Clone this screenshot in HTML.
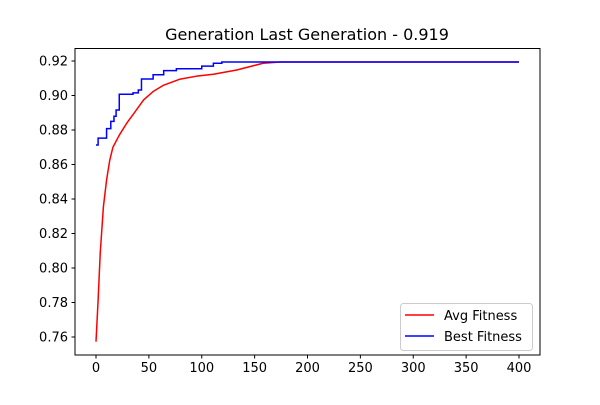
<!DOCTYPE html>
<html><head><meta charset="utf-8"><style>
body{margin:0;background:#fff;width:600px;height:400px;overflow:hidden}
text{font-family:"DejaVu Sans","Liberation Sans",sans-serif}
</style></head><body>
<svg id="chart" width="600" height="400" xmlns="http://www.w3.org/2000/svg">
<rect width="600" height="400" fill="#fff"/>
<text x="307" y="40" font-size="16" text-anchor="middle">Generation Last Generation - 0.919</text>
<g id="plot"></g>
<rect x="75" y="48.5" width="465" height="306.5" fill="none" stroke="#000" stroke-width="1"/>
<g>
<rect x="400.5" y="303.5" width="132" height="47" rx="3" fill="#fff" stroke="#ccc"/>
<line x1="405" y1="315" x2="434" y2="315" stroke="#f00" stroke-width="1.5"/>
<text x="444" y="320" font-size="13">Avg Fitness</text>
<line x1="405" y1="336" x2="434" y2="336" stroke="#00f" stroke-width="1.5"/>
<text x="444" y="341" font-size="13">Best Fitness</text>
</g>
</svg>
<script>
const xTicks=[0,50,100,150,200,250,300,350,400];
const yTicks=[0.76,0.78,0.80,0.82,0.84,0.86,0.88,0.90,0.92];
const avgGens=[0,2,4,7,10,13,16,22,29,37,45,54,64,79,95,111,133,158,174,400];
const avgVals=[0.7573,0.7814,0.8087,0.8355,0.851,0.8625,0.870,0.877,0.8839,0.8906,0.8974,0.9023,0.906,0.9094,0.9112,0.9123,0.9148,0.9187,0.9194,0.9194];
const bestGens=[0,2,10,14,17,19,22,35,40,43,54,64,76,100,111,119,400];
const bestVals=[0.8713,0.8753,0.8808,0.8850,0.8880,0.8916,0.9007,0.9015,0.9032,0.9096,0.912,0.9144,0.9155,0.917,0.9187,0.9194,0.9194];
const X=g=>96+g*1.0575, Y=v=>61+(0.92-v)*1725;
const ns="http://www.w3.org/2000/svg", p=document.getElementById('plot');
function mk(t,a){const e=document.createElementNS(ns,t);for(const k in a)e.setAttribute(k,a[k]);p.appendChild(e);return e;}
xTicks.forEach(t=>{mk('line',{x1:X(t),x2:X(t),y1:355,y2:358.5,stroke:'#000'});
const tx=mk('text',{x:X(t),y:372,'font-size':13,'text-anchor':'middle'});tx.textContent=t;

});
yTicks.forEach(t=>{mk('line',{x1:71.5,x2:75,y1:Y(t),y2:Y(t),stroke:'#000'});
const tx=mk('text',{x:68,y:Y(t)+4.5,'font-size':13,'text-anchor':'end'});tx.textContent=t.toFixed(2);

});
const a=mk('polyline',{points:avgGens.map((g,i)=>X(g)+','+Y(avgVals[i])).join(' '),fill:'none',stroke:'#f00','stroke-width':1.5,'stroke-linejoin':'round'});


let pts=[];bestGens.forEach((g,i)=>{if(i>0)pts.push(X(g)+','+Y(bestVals[i-1]));pts.push(X(g)+','+Y(bestVals[i]));});
const b=mk('polyline',{points:pts.join(' '),fill:'none',stroke:'#00f','stroke-width':1.5});


</script>
</body></html>
